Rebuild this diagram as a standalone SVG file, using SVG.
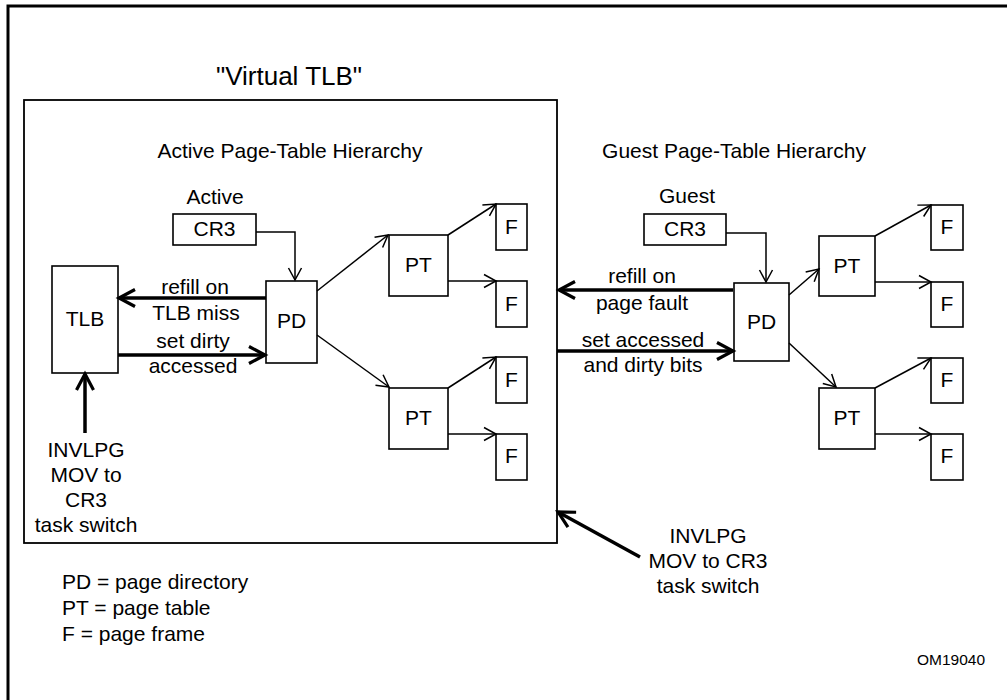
<svg xmlns="http://www.w3.org/2000/svg" width="1007" height="700" viewBox="0 0 1007 700">
<defs>
<style>
text{font-family:"Liberation Sans",Arial,sans-serif;fill:#000;}
.t{font-size:21px;text-anchor:middle;}
.l{font-size:21px;}
.box{fill:#fff;stroke:#000;stroke-width:1.6;}
.thin{fill:none;stroke:#000;stroke-width:1.5;marker-end:url(#ah);}
.thick{fill:none;stroke:#000;stroke-width:3.5;marker-end:url(#ahb);}
</style>
<marker id="ah" markerUnits="userSpaceOnUse" viewBox="-16 -10 20 20" markerWidth="20" markerHeight="20" refX="0" refY="0" orient="auto">
<path d="M-12,-6.5 L0,0 L-12,6.5" fill="none" stroke="#000" stroke-width="1.5"/>
</marker>
<marker id="ahb" markerUnits="userSpaceOnUse" viewBox="-22 -14 28 28" markerWidth="28" markerHeight="28" refX="0" refY="0" orient="auto">
<path d="M-16,-8.5 L0,0 L-16,8.5" fill="none" stroke="#000" stroke-width="3.2"/>
</marker>
</defs>
<rect width="1007" height="700" fill="#fff"/>
<g id="frame">
<path d="M8,700 L8,6 L1007,6" fill="none" stroke="#000" stroke-width="3"/>
</g>
<g id="virtual-tlb">
<text x="289" y="85" style="font-size:26px;text-anchor:middle">"Virtual TLB"</text>
<rect x="24" y="100" width="533" height="443" fill="none" stroke="#000" stroke-width="1.8"/>
<text class="t" x="290" y="158">Active Page-Table Hierarchy</text>
</g>
<text class="t" x="734" y="158">Guest Page-Table Hierarchy</text>

<g id="active-cr3">
<text class="t" x="215" y="204">Active</text>
<rect class="box" x="173" y="214" width="83" height="31"/>
<text class="t" x="214.5" y="236">CR3</text>
</g>
<g id="tlb">
<rect class="box" x="52" y="266" width="66" height="107"/>
<text class="t" x="85" y="326">TLB</text>
</g>
<g id="active-pd">
<rect class="box" x="266" y="281" width="51" height="82"/>
<text class="t" x="291.5" y="328">PD</text>
</g>
<g id="active-pt1">
<rect class="box" x="389" y="235" width="59" height="61"/>
<text class="t" x="418.5" y="272">PT</text>
</g>
<g id="active-pt2">
<rect class="box" x="389" y="388" width="59" height="61"/>
<text class="t" x="418.5" y="425">PT</text>
</g>
<g id="active-f1"><rect class="box" x="496" y="204" width="31" height="46"/><text class="t" x="511.5" y="234">F</text></g>
<g id="active-f2"><rect class="box" x="496" y="281" width="31" height="46"/><text class="t" x="511.5" y="311">F</text></g>
<g id="active-f3"><rect class="box" x="496" y="357" width="31" height="46"/><text class="t" x="511.5" y="387">F</text></g>
<g id="active-f4"><rect class="box" x="496" y="434" width="31" height="46"/><text class="t" x="511.5" y="463">F</text></g>

<g id="guest-cr3">
<text class="t" x="687" y="203">Guest</text>
<rect class="box" x="644" y="214" width="82" height="31"/>
<text class="t" x="685" y="236">CR3</text>
</g>
<g id="guest-pd">
<rect class="box" x="734" y="283" width="55" height="78"/>
<text class="t" x="761.5" y="329">PD</text>
</g>
<g id="guest-pt1">
<rect class="box" x="819" y="236" width="56" height="60"/>
<text class="t" x="847" y="273">PT</text>
</g>
<g id="guest-pt2">
<rect class="box" x="819" y="388" width="56" height="61"/>
<text class="t" x="847" y="425">PT</text>
</g>
<g id="guest-f1"><rect class="box" x="931" y="205" width="32" height="45"/><text class="t" x="947" y="234">F</text></g>
<g id="guest-f2"><rect class="box" x="931" y="282" width="32" height="45"/><text class="t" x="947" y="311">F</text></g>
<g id="guest-f3"><rect class="box" x="931" y="358" width="32" height="45"/><text class="t" x="947" y="387">F</text></g>
<g id="guest-f4"><rect class="box" x="931" y="434" width="32" height="46"/><text class="t" x="947" y="463">F</text></g>

<g id="connectors">
<polyline class="thin" points="256,232 295,232 295,280"/>
<line class="thin" x1="317" y1="291" x2="388" y2="235"/>
<line class="thin" x1="317" y1="335" x2="389" y2="387"/>
<line class="thin" x1="448" y1="235" x2="496" y2="204"/>
<line class="thin" x1="448" y1="281" x2="496" y2="281"/>
<line class="thin" x1="448" y1="388" x2="496" y2="357"/>
<line class="thin" x1="448" y1="434" x2="496" y2="434"/>
<line class="thick" x1="266" y1="298" x2="119" y2="298"/>
<line class="thick" x1="118" y1="355" x2="265" y2="355"/>
<line class="thick" x1="85" y1="433" x2="85" y2="374"/>

<polyline class="thin" points="726,233 766,233 766,282"/>
<line class="thin" x1="789" y1="295" x2="819" y2="269"/>
<line class="thin" x1="789" y1="343" x2="836" y2="387"/>
<line class="thin" x1="875" y1="236" x2="931" y2="205"/>
<line class="thin" x1="875" y1="282" x2="931" y2="282"/>
<line class="thin" x1="875" y1="388" x2="931" y2="358"/>
<line class="thin" x1="875" y1="434" x2="931" y2="434"/>
<line class="thick" x1="733" y1="290" x2="559" y2="290"/>
<line class="thick" x1="557" y1="351" x2="733" y2="351"/>
<line class="thick" x1="640" y1="557" x2="558" y2="512"/>
</g>

<g id="labels">
<text class="t" x="195" y="294">refill on</text>
<text class="t" x="196" y="320">TLB miss</text>
<text class="t" x="193" y="348">set dirty</text>
<text class="t" x="193" y="373">accessed</text>
<text class="t" x="86" y="457">INVLPG</text>
<text class="t" x="86" y="482">MOV to</text>
<text class="t" x="86" y="507">CR3</text>
<text class="t" x="86" y="532">task switch</text>
<text class="t" x="642" y="283">refill on</text>
<text class="t" x="642" y="310">page fault</text>
<text class="t" x="643" y="347">set accessed</text>
<text class="t" x="643" y="372">and dirty bits</text>
<text class="t" x="708" y="543">INVLPG</text>
<text class="t" x="708" y="568">MOV to CR3</text>
<text class="t" x="708" y="593">task switch</text>
</g>
<g id="legend">
<text class="l" x="62" y="589">PD = page directory</text>
<text class="l" x="62" y="615">PT = page table</text>
<text class="l" x="62" y="641">F = page frame</text>
</g>
<text x="951" y="665" style="font-size:15.5px;text-anchor:middle">OM19040</text>
</svg>
